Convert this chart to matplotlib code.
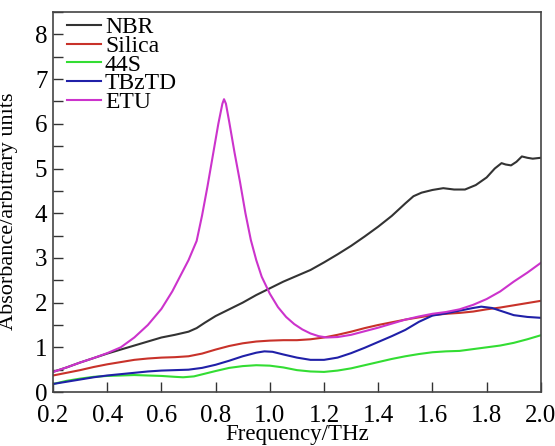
import matplotlib
matplotlib.use("Agg")
import matplotlib.pyplot as plt
from matplotlib.ticker import MultipleLocator

plt.rcParams['font.family'] = ['Liberation Serif', 'DejaVu Serif']

nbr_x = [0.2, 0.25, 0.3, 0.35, 0.4, 0.45, 0.5, 0.55, 0.6, 0.65, 0.7, 0.73, 0.76, 0.8, 0.85, 0.9, 0.95, 1.0, 1.05, 1.1, 1.15, 1.2, 1.25, 1.3, 1.35, 1.4, 1.45, 1.5, 1.53, 1.56, 1.6, 1.64, 1.68, 1.72, 1.76, 1.8, 1.83, 1.855, 1.87, 1.89, 1.91, 1.93, 1.95, 1.97, 2.0]
nbr_y = [0.45, 0.55, 0.66, 0.76, 0.86, 0.95, 1.04, 1.13, 1.22, 1.28, 1.35, 1.43, 1.55, 1.7, 1.85, 2.0, 2.17, 2.32, 2.47, 2.6, 2.73, 2.9, 3.08, 3.27, 3.48, 3.7, 3.94, 4.22, 4.38, 4.46, 4.52, 4.56, 4.53, 4.53, 4.63, 4.8, 5.0, 5.12, 5.09, 5.07, 5.15, 5.27, 5.24, 5.22, 5.24]

sil_x = [0.2, 0.25, 0.3, 0.35, 0.4, 0.45, 0.5, 0.55, 0.6, 0.65, 0.7, 0.75, 0.8, 0.85, 0.9, 0.95, 1.0, 1.05, 1.1, 1.15, 1.2, 1.25, 1.3, 1.35, 1.4, 1.45, 1.5, 1.55, 1.6, 1.65, 1.7, 1.75, 1.8, 1.85, 1.9, 1.95, 2.0]
sil_y = [0.37, 0.43, 0.49, 0.56, 0.62, 0.67, 0.72, 0.75, 0.77, 0.78, 0.8, 0.86, 0.95, 1.03, 1.09, 1.13, 1.15, 1.16, 1.16, 1.18, 1.22, 1.28, 1.35, 1.43, 1.5, 1.56, 1.62, 1.67, 1.72, 1.75, 1.77, 1.8, 1.85, 1.89, 1.94, 1.99, 2.04]

s44_x = [0.2, 0.25, 0.3, 0.35, 0.4, 0.45, 0.5, 0.55, 0.6, 0.65, 0.68, 0.72, 0.76, 0.8, 0.85, 0.9, 0.95, 1.0, 1.05, 1.1, 1.15, 1.2, 1.25, 1.3, 1.35, 1.4, 1.45, 1.5, 1.55, 1.6, 1.65, 1.7, 1.75, 1.8, 1.85, 1.9, 1.95, 2.0]
s44_y = [0.18, 0.25, 0.3, 0.34, 0.36, 0.37, 0.38, 0.37, 0.36, 0.34, 0.33, 0.35, 0.41, 0.47, 0.54, 0.58, 0.6, 0.59, 0.55, 0.49, 0.46, 0.45, 0.48, 0.53, 0.6, 0.67, 0.74, 0.8, 0.85, 0.89, 0.91, 0.92, 0.96, 1.0, 1.04, 1.1, 1.18, 1.27]

tbz_x = [0.2, 0.25, 0.3, 0.35, 0.4, 0.45, 0.5, 0.55, 0.6, 0.65, 0.7, 0.75, 0.8, 0.85, 0.9, 0.95, 0.98, 1.01, 1.05, 1.1, 1.15, 1.2, 1.25, 1.3, 1.35, 1.4, 1.45, 1.5, 1.55, 1.6, 1.65, 1.7, 1.75, 1.78, 1.82, 1.86, 1.9, 1.95, 2.0]
tbz_y = [0.18, 0.23, 0.28, 0.33, 0.37, 0.4, 0.43, 0.46, 0.48, 0.49, 0.5, 0.54, 0.61, 0.7, 0.8, 0.88, 0.91, 0.9, 0.84, 0.77, 0.72, 0.72, 0.77, 0.87, 0.99, 1.12, 1.25, 1.39, 1.57, 1.71, 1.76, 1.82, 1.88, 1.91, 1.88, 1.8, 1.72, 1.68, 1.66]

etu_x = [0.2, 0.25, 0.3, 0.35, 0.4, 0.45, 0.5, 0.55, 0.6, 0.64, 0.67, 0.7, 0.73, 0.75, 0.77, 0.79, 0.81, 0.825, 0.831, 0.838, 0.85, 0.87, 0.89, 0.91, 0.93, 0.95, 0.97, 1.0, 1.03, 1.06, 1.09, 1.12, 1.15, 1.18, 1.21, 1.25, 1.3, 1.35, 1.4, 1.45, 1.5, 1.55, 1.6, 1.65, 1.7, 1.75, 1.8, 1.85, 1.9, 1.95, 2.0]
etu_y = [0.45, 0.55, 0.66, 0.76, 0.87, 1.0, 1.22, 1.5, 1.86, 2.25, 2.6, 2.95, 3.38, 3.95, 4.6, 5.3, 6.0, 6.45, 6.55, 6.45, 6.05, 5.35, 4.7, 4.0, 3.4, 2.95, 2.58, 2.2, 1.9, 1.68, 1.52, 1.4, 1.31, 1.25, 1.22, 1.23, 1.28, 1.36, 1.44, 1.53, 1.62, 1.69, 1.75, 1.79, 1.85, 1.95, 2.08, 2.25, 2.47, 2.67, 2.89]

series = [
    ("NBR", nbr_x, nbr_y, "#333333"),
    ("Silica", sil_x, sil_y, "#c8322a"),
    ("44S", s44_x, s44_y, "#33dd33"),
    ("TBzTD", tbz_x, tbz_y, "#2020a8"),
    ("ETU", etu_x, etu_y, "#cc33cc"),
]

fig = plt.figure(figsize=(5.55, 4.46), dpi=100)
ax = fig.add_axes([0.0955, 0.121, 0.879, 0.852])
for name, xs, ys, c in series:
    ax.plot(xs, ys, color=c, lw=1.5, label=name)

ax.set_xlim(0.2, 2.0)
ax.set_ylim(0, 8.5)
ax.yaxis.set_major_locator(MultipleLocator(1))
ax.yaxis.set_minor_locator(MultipleLocator(0.5))
ax.set_xticks([0.2, 0.4, 0.6, 0.8, 1.0, 1.2, 1.4, 1.6, 1.8, 2.0])
ax.set_xticklabels(["0.2", "0.4", "0.6", "0.8", "1.0", "1.2", "1.4", "1.6", "1.8", "2.0"])
ax.tick_params(axis='both', which='both', direction='in', labelsize=18, width=1, color='#333333')
ax.tick_params(axis='both', which='major', length=7)
ax.tick_params(axis='y', which='minor', length=7)
ax.tick_params(axis='x', pad=9)
ax.tick_params(axis='y', pad=4)
for s in ax.spines.values():
    s.set_color('#444444')
    s.set_linewidth(1.2)

ax.set_xlabel("Frequency/THz", fontsize=16.5)
ax.xaxis.set_label_coords(0.5, -0.085)
ax.set_ylabel("Absorbance/arbitrary units", fontsize=16)
ax.yaxis.set_label_coords(-0.072, 0.476)

leg = ax.legend(loc='upper left', frameon=False, fontsize=17, handlelength=1.45,
                handletextpad=0.15, labelspacing=-0.12, borderaxespad=0.2,
                bbox_to_anchor=(0.0, 1.025))

fig.savefig("out.png", dpi=100)
